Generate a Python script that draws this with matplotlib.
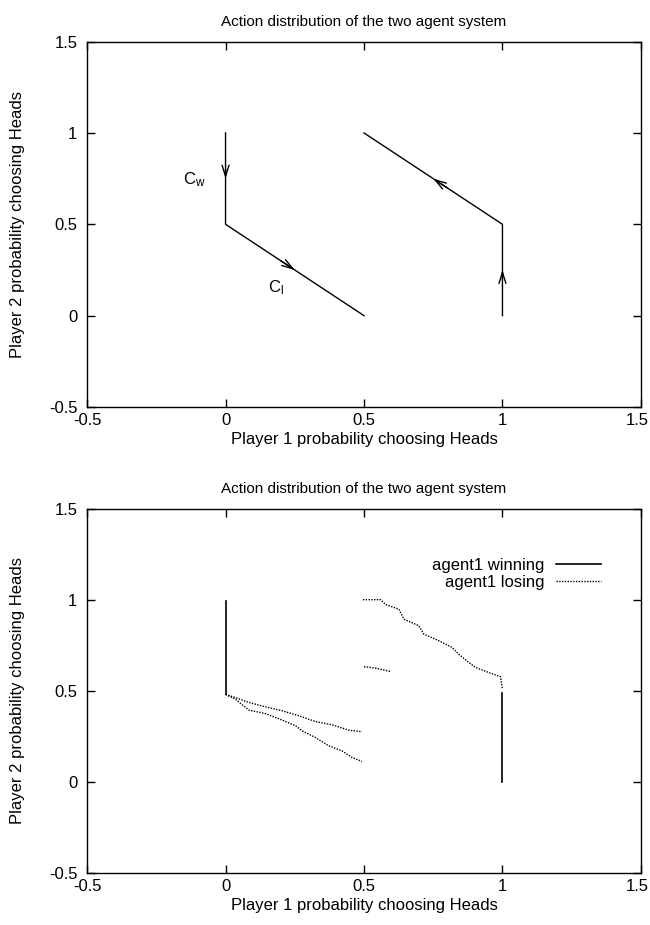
import numpy as np
import matplotlib
matplotlib.use('Agg')
import matplotlib.pyplot as plt
from matplotlib.transforms import ScaledTranslation

plt.rcParams['font.family'] = ['Liberation Sans', 'DejaVu Sans']
plt.rcParams['mathtext.fontset'] = 'custom'
plt.rcParams['mathtext.rm'] = 'Liberation Sans'
plt.rcParams['mathtext.it'] = 'Liberation Sans'

# ---- top panel: ideal paths
path_left_x = [0, 0, 0.5]
path_left_y = [1, 0.5, 0]
path_right_x = [1, 1, 0.5]
path_right_y = [0, 0.5, 1]
# arrow tips (x, y) and direction they point to
arrow_tips = [(0, 0.75), (0.25, 0.25), (1, 0.25), (0.75, 0.75)]
arrow_dirs = [(0, -1), (1, -1), (0, 1), (-1, 1)]

# ---- bottom panel: simulated trajectories
win_a_x = [0, 0]
win_a_y = [0.99, 0.48]
win_b_x = [1, 1]
win_b_y = [0.49, 0.0]

lose_a_x = [0, 0.036, 0.084, 0.144, 0.205, 0.265, 0.325, 0.385, 0.445, 0.493]
lose_a_y = [0.48, 0.463, 0.436, 0.412, 0.39, 0.363, 0.331, 0.313, 0.284, 0.275]
lose_b_x = [0, 0.036, 0.084, 0.144, 0.205, 0.253, 0.277, 0.325, 0.373, 0.421, 0.457, 0.493]
lose_b_y = [0.48, 0.453, 0.394, 0.375, 0.339, 0.308, 0.28, 0.243, 0.198, 0.17, 0.134, 0.112]
lose_c_x = [0.496, 0.56, 0.578, 0.626, 0.644, 0.698, 0.716, 0.77, 0.818, 0.842, 0.878, 0.903, 0.951, 0.993, 1.0]
lose_c_y = [1.0, 1.0, 0.973, 0.948, 0.893, 0.857, 0.811, 0.775, 0.738, 0.701, 0.656, 0.628, 0.60, 0.577, 0.51]
lose_d_x = [0.5, 0.54, 0.596]
lose_d_y = [0.632, 0.625, 0.606]

ticks = [-0.5, 0, 0.5, 1, 1.5]
tick_labels = ['-0.5', '0', '0.5', '1', '1.5']

fig = plt.figure(figsize=(6.5, 9.25), dpi=100)
ax1 = fig.add_axes([0.134, 0.56, 0.852, 0.395])
ax2 = fig.add_axes([0.134, 0.0562, 0.852, 0.394])

for ax in (ax1, ax2):
    ax.set_xlim(-0.5, 1.5)
    ax.set_ylim(-0.5, 1.5)
    ax.set_xticks(ticks)
    ax.set_xticklabels(tick_labels)
    ax.set_yticks(ticks)
    ax.set_yticklabels(tick_labels)
    ax.tick_params(direction='in', length=6, width=1, top=True, right=True,
                   labelsize=12)
    ax.tick_params(axis='x', pad=4)
    ax.tick_params(axis='y', pad=7)
    for s in ax.spines.values():
        s.set_linewidth(1)
    # keep the rightmost x label inside the figure
    last = ax.get_xticklabels()[-1]
    last.set_transform(last.get_transform() + ScaledTranslation(-4 / 100, 0, fig.dpi_scale_trans))
    ax.set_title('Action distribution of the two agent system', fontsize=11, pad=11)
    ax.set_xlabel('Player 1 probability choosing Heads', fontsize=12, labelpad=3)
    ax.set_ylabel('Player 2 probability choosing Heads', fontsize=12, labelpad=17)

ax1.plot(path_left_x, path_left_y, color='black', lw=1)
ax1.plot(path_right_x, path_right_y, color='black', lw=1)
for (tx, ty), (dx, dy) in zip(arrow_tips, arrow_dirs):
    ax1.annotate('', xy=(tx, ty), xytext=(tx - 0.05 * dx, ty - 0.05 * dy),
                 arrowprops=dict(arrowstyle='->,head_length=0.8,head_width=0.25',
                                 lw=1, color='black',
                                 mutation_scale=10, shrinkA=0, shrinkB=0))
ax1.text(-0.152, 0.72, r'C$_\mathrm{w}$', fontsize=12, ha='left', va='baseline')
ax1.text(0.152, 0.126, r'C$_\mathrm{l}$', fontsize=12, ha='left', va='baseline')

ax2.plot(win_a_x, win_a_y, color='black', lw=1.2, label='agent1 winning')
ax2.plot(win_b_x, win_b_y, color='black', lw=1.2)
dots = (0, (1, 1))
ax2.plot(lose_a_x, lose_a_y, color='black', lw=1, ls=dots, label='agent1 losing')
ax2.plot(lose_b_x, lose_b_y, color='black', lw=1, ls=dots)
ax2.plot(lose_c_x, lose_c_y, color='black', lw=1, ls=dots)
ax2.plot(lose_d_x, lose_d_y, color='black', lw=1, ls=dots)
ax2.legend(loc='upper right', bbox_to_anchor=(0.943, 0.888), frameon=False,
           markerfirst=False, fontsize=12, handlelength=2.7, handletextpad=0.7,
           labelspacing=0.15, borderpad=0)

fig.savefig('out.png', dpi=100)
